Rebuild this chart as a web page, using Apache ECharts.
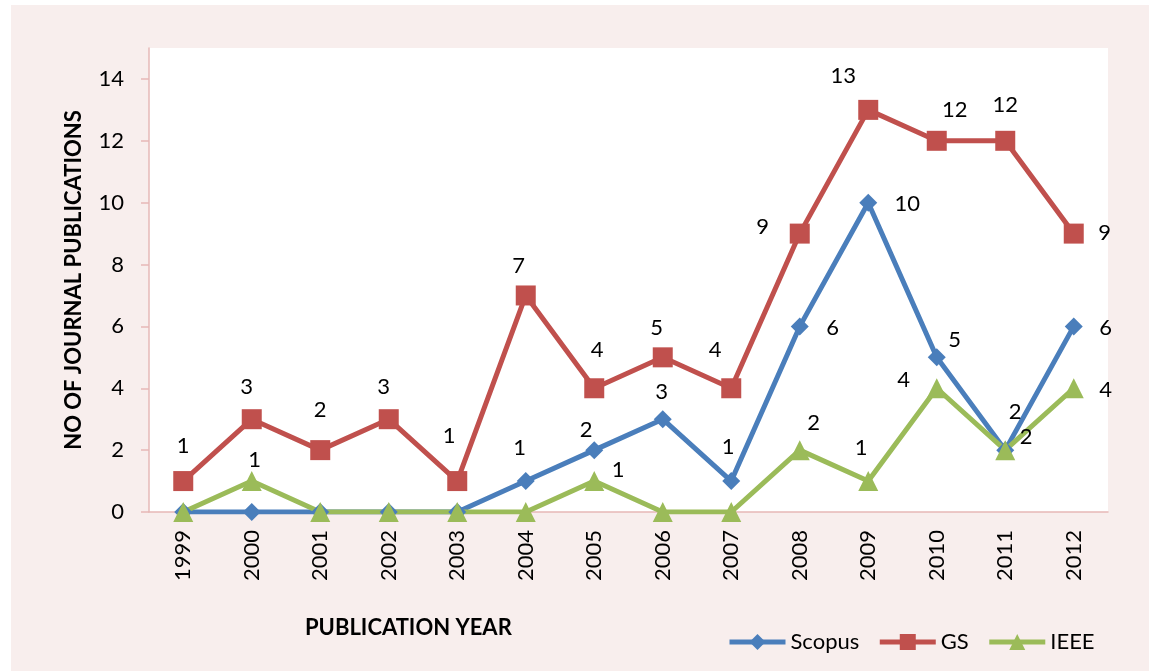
<!DOCTYPE html>
<html>
<head>
<meta charset="utf-8">
<script src="https://cdn.jsdelivr.net/npm/echarts@6/dist/echarts.min.js"></script>
<style>
html,body{margin:0;padding:0;background:#ffffff;}
#chart{width:1149px;height:671px;}
</style>
</head>
<body>
<div id="chart"></div>
<script>
const years = ['1999','2000','2001','2002','2003','2004','2005','2006','2007','2008','2009','2010','2011','2012'];
const scopus = [0,0,0,0,0,1,2,3,1,6,10,5,2,6];
const gs = [1,3,2,3,1,7,4,5,4,9,13,12,12,9];
const ieee = [0,1,0,0,0,0,1,0,0,2,1,4,2,4];
const yTicks = [0,2,4,6,8,10,12,14];
const seriesNames = ['Scopus','GS','IEEE'];
const xTitle = 'PUBLICATION YEAR';
const yTitle = 'NO OF JOURNAL PUBLICATIONS';

// label placement (pixel offsets relative to each point)
const scopusLabelOffsets = [[0,0],[0,0],[0,0],[0,0],[0,0],[-6,-33],[-8,-20],[-1,-27],[-3,-34],[33,2],[39,1],[18,-17],[10,-38],[32,2]];
const gsLabelOffsets = [[0,-35],[-5,-32],[0,-40],[-5,-32],[-8,-45],[-7,-30],[3,-38],[-6,-29],[-16,-38],[-37,-7],[-25,-34],[18,-31],[0,-36],[31,-1]];
const ieeeLabelOffsets = [[0,0],[3,-21],[0,0],[0,0],[0,0],[0,0],[24,-11],[0,0],[0,0],[14,-27],[-7,-33],[-33,-8],[21,-13],[32,2]];

const FONT = 'Lato, "Open Sans", sans-serif';
const colors = {Scopus:'#4a7ebb', GS:'#c0504d', IEEE:'#9bbb59'};

function buildData(values, offsets){
  return values.map((v,i)=>({
    value: v,
    label: {show: v > 0, offset: offsets[i]}
  }));
}

function mkSeries(name, values, offsets, symbol, size){
  return {
    name: name,
    type: 'line',
    data: buildData(values, offsets),
    symbol: symbol,
    symbolSize: size,
    showAllSymbol: true,
    lineStyle: {width: 5, color: colors[name]},
    itemStyle: {color: colors[name]},
    label: {position: 'inside', color: '#000', fontSize: 22, fontFamily: FONT},
    emphasis: {disabled: true},
    animation: false
  };
}

const chart = echarts.init(document.getElementById('chart'), null, {renderer:'canvas'});
chart.setOption({
  backgroundColor: '#ffffff',
  animation: false,
  textStyle: {fontFamily: FONT},
  graphic: [
    {type:'rect', z:-10, shape:{x:11, y:5, width:1138, height:666}, style:{fill:'#f8eeed'}},
    {type:'text', left: 305, top: 617, style:{text: xTitle, font: 'bold 22px ' + FONT, fill:'#000'}}
  ],
  grid: {left:149, top:48, right:41, bottom:159, show:true, backgroundColor:'#ffffff', borderWidth:0},
  legend: {
    data: seriesNames,
    left: 722, top: 626,
    itemWidth: 56, itemHeight: 20, itemGap: 18,
    lineStyle: {width: 5},
    textStyle: {fontSize: 22, color:'#000', fontFamily: FONT}
  },
  xAxis: {
    type: 'category',
    data: years,
    boundaryGap: true,
    axisLine: {lineStyle:{color:'#e6b8b7', width:1.5}},
    axisTick: {show:false},
    axisLabel: {rotate: 90, fontSize: 22, color:'#000', margin: 18, fontFamily: FONT}
  },
  yAxis: {
    type: 'value',
    min: 0, max: 15,
    name: yTitle,
    nameLocation: 'middle',
    nameGap: 64,
    nameRotate: 90,
    nameTextStyle: {fontSize: 22, fontWeight:'bold', color:'#000', fontFamily: FONT},
    axisLine: {show:true, lineStyle:{color:'#e6b8b7', width:1.5}},
    axisTick: {show:true, length: 8, customValues: yTicks, lineStyle:{color:'#e6b8b7', width:1.5}},
    axisLabel: {fontSize: 22, color:'#000', margin: 25, customValues: yTicks, fontFamily: FONT},
    splitLine: {show:false}
  },
  series: [
    mkSeries('Scopus', scopus, scopusLabelOffsets, 'diamond', 18),
    mkSeries('GS', gs, gsLabelOffsets, 'rect', 20),
    mkSeries('IEEE', ieee, ieeeLabelOffsets, 'triangle', 20)
  ]
});
</script>
</body>
</html>
